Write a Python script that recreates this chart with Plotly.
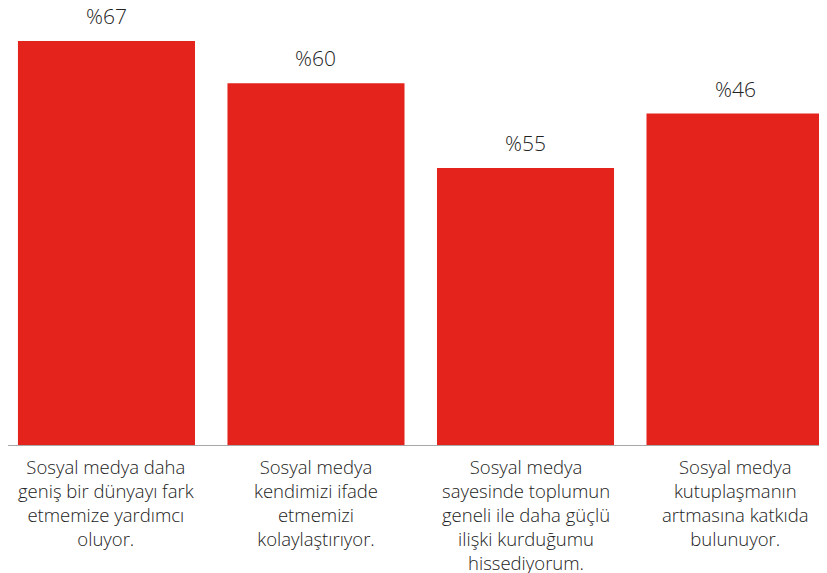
import plotly.graph_objects as go

categories = [
    "Sosyal medya daha<br>geniş bir dünyayı fark<br>etmemize yardımcı<br>oluyor.",
    "Sosyal medya<br>kendimizi ifade<br>etmemizi<br>kolaylaştırıyor.",
    "Sosyal medya<br>sayesinde toplumun<br>geneli ile daha güçlü<br>ilişki kurduğumu<br>hissediyorum.",
    "Sosyal medya<br>kutuplaşmanın<br>artmasına katkıda<br>bulunuyor.",
]
bar_values = [67, 60, 46, 55]
value_labels = ["%67", "%60", "%55", "%46"]

positions = list(range(len(categories)))
RED = "#E3231C"
FONT = "Open Sans"

fig = go.Figure()
fig.add_trace(
    go.Bar(
        x=positions,
        y=bar_values,
        width=0.845,
        marker=dict(color=RED, line=dict(width=0)),
        hoverinfo="skip",
        showlegend=False,
    )
)

for pos, val, lab in zip(positions, bar_values, value_labels):
    fig.add_annotation(
        x=pos, y=val, text=lab, showarrow=False,
        yanchor="bottom", yshift=9,
        font=dict(family=FONT, size=21, color="#222222", weight=300),
    )

for pos, cat in zip(positions, categories):
    fig.add_annotation(
        x=pos, y=0, yref="y", text=cat, showarrow=False,
        yanchor="top", yshift=-6, align="center",
        font=dict(family=FONT, size=18.5, color="#222222", weight=300),
    )

# page body has an 8px margin, so the figure is a bit smaller than the window
fig.update_layout(
    width=819,
    height=565,
    margin=dict(l=0, r=0, t=0, b=127),
    plot_bgcolor="white",
    paper_bgcolor="white",
    xaxis=dict(
        range=[-0.47, 3.439], showgrid=False, zeroline=False,
        showticklabels=False, showline=False, fixedrange=True,
    ),
    yaxis=dict(
        range=[0, 72.46], showgrid=False, zeroline=False,
        showticklabels=False, fixedrange=True,
    ),
)

fig.add_shape(
    type="line", xref="paper", yref="y",
    x0=0, x1=1, y0=0, y1=0,
    line=dict(color="#A8A8A8", width=2),
)

fig.write_html("out.html")
